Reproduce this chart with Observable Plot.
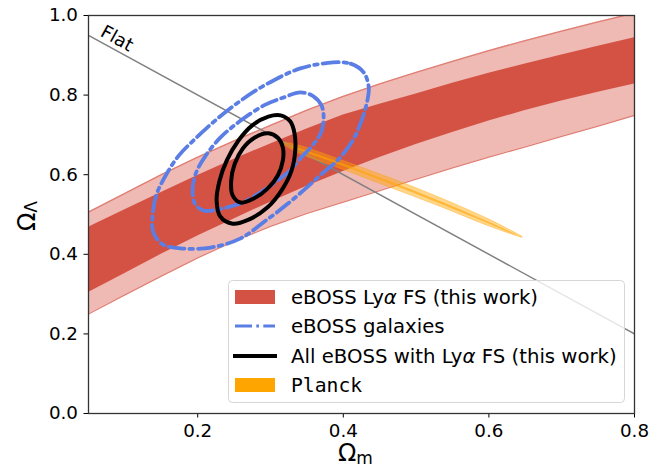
<!DOCTYPE html>
<html><head><meta charset="utf-8">
<script src="https://cdn.jsdelivr.net/npm/d3@7"></script>
<script src="https://cdn.jsdelivr.net/npm/@observablehq/plot@0.6"></script>
<style>body{margin:0;background:#fff} svg{font-family:"DejaVu Sans"}</style>
</head><body><div id="chart"></div>
<script>
// Omega_m grid for the Lya FS bands
const omGrid = [0.05,0.10,0.15,0.20,0.25,0.30,0.35,0.40,0.45,0.50,0.55,0.60,0.65,0.70,0.75,0.80];
const lya2sUpper = [0.506,0.553,0.600,0.644,0.685,0.724,0.762,0.797,0.828,0.857,0.885,0.912,0.937,0.961,0.984,1.006];
const lya1sUpper = [0.468,0.512,0.555,0.598,0.639,0.677,0.715,0.750,0.777,0.803,0.830,0.855,0.878,0.901,0.923,0.944];
const lya1sLower = [0.304,0.352,0.400,0.446,0.489,0.531,0.571,0.608,0.643,0.676,0.706,0.735,0.761,0.785,0.807,0.828];
const lya2sLower = [0.250,0.298,0.345,0.391,0.433,0.470,0.503,0.531,0.560,0.589,0.617,0.644,0.670,0.696,0.722,0.749];

// eBOSS galaxies contours [Omega_m, Omega_Lambda]
const galaxies2s = [[0.386,0.882],[0.410,0.879],[0.428,0.857],[0.435,0.819],[0.433,0.786],[0.426,0.741],[0.413,0.686],[0.392,0.636],[0.371,0.603],[0.348,0.565],[0.321,0.523],[0.290,0.480],[0.259,0.440],[0.218,0.417],[0.176,0.415],[0.152,0.425],[0.139,0.455],[0.138,0.497],[0.143,0.548],[0.156,0.598],[0.174,0.648],[0.197,0.691],[0.224,0.736],[0.259,0.786],[0.296,0.829],[0.341,0.867]];
const galaxies1s = [[0.341,0.807],[0.359,0.797],[0.370,0.774],[0.373,0.744],[0.369,0.704],[0.355,0.668],[0.341,0.641],[0.327,0.611],[0.304,0.578],[0.284,0.553],[0.259,0.528],[0.234,0.515],[0.208,0.510],[0.196,0.528],[0.193,0.565],[0.198,0.606],[0.211,0.648],[0.231,0.693],[0.259,0.736],[0.293,0.776],[0.318,0.794]];

// All eBOSS with Lya FS contours
const combined2s = [[0.314,0.749],[0.327,0.734],[0.333,0.704],[0.334,0.661],[0.329,0.611],[0.315,0.560],[0.296,0.518],[0.270,0.487],[0.248,0.477],[0.231,0.495],[0.226,0.535],[0.230,0.585],[0.240,0.636],[0.256,0.686],[0.275,0.724],[0.297,0.746]];
const combined1s = [[0.297,0.704],[0.310,0.693],[0.317,0.668],[0.317,0.636],[0.310,0.598],[0.296,0.565],[0.277,0.540],[0.259,0.530],[0.248,0.548],[0.246,0.585],[0.251,0.628],[0.262,0.666],[0.278,0.693]];

// Planck degeneracy band
const planck2sOm = [0.318,0.341,0.396,0.465,0.534,0.602,0.646];
const planck2sUpper = [0.681,0.672,0.637,0.591,0.541,0.486,0.444];
const planck2sLower = [0.675,0.652,0.615,0.567,0.519,0.469,0.441];
const planck1sOm = [0.330,0.396,0.465,0.534,0.602,0.637];
const planck1sUpper = [0.672,0.630,0.582,0.532,0.479,0.449];
const planck1sLower = [0.667,0.624,0.576,0.526,0.475,0.447];

// Flat universe line
const flatOm = [0.05,0.80];
const flatOL = [0.95,0.20];

const xTicks = [0.2,0.4,0.6,0.8];
const yTicks = [0.0,0.2,0.4,0.6,0.8,1.0];

const legendLabels = ["eBOSS Ly|α| FS (this work)","eBOSS galaxies","All eBOSS with Ly|α| FS (this work)","Planck"];

const bandRows = omGrid.map((om,i)=>({om, ou:lya2sUpper[i], iu:lya1sUpper[i], il:lya1sLower[i], ol:lya2sLower[i]}));
const planck2Rows = planck2sOm.map((om,i)=>({om, u:planck2sUpper[i], l:planck2sLower[i]}));
const planck1Rows = planck1sOm.map((om,i)=>({om, u:planck1sUpper[i], l:planck1sLower[i]}));
const flatRows = flatOm.map((om,i)=>({om, ol:flatOL[i]}));

const blue = "#5b7ee5";
const dash = "16,5,3.5,5";

const svg = Plot.plot({
  width: 671, height: 470,
  marginLeft: 88, marginRight: 37, marginTop: 15, marginBottom: 57,
  style: {fontFamily: "DejaVu Sans", fontSize: "18px", color: "#000", background: "#fff"},
  x: {domain: [0.05, 0.8], ticks: xTicks, tickFormat: ".1f", tickSize: 4.5, tickPadding: 6, label: null},
  y: {domain: [0, 1], ticks: yTicks, tickFormat: ".1f", tickSize: 4.5, tickPadding: 6, label: null},
  marks: [
    Plot.areaY(bandRows, {x:"om", y1:"ol", y2:"ou", fill:"#efb9b4", clip:true}),
    Plot.areaY(bandRows, {x:"om", y1:"il", y2:"iu", fill:"#d45244", clip:true}),
    Plot.line(bandRows, {x:"om", y:"ou", stroke:"#e07f74", strokeWidth:1.3, clip:true}),
    Plot.line(bandRows, {x:"om", y:"ol", stroke:"#e07f74", strokeWidth:1.3, clip:true}),
    Plot.line(flatRows, {x:"om", y:"ol", stroke:"#808080", strokeWidth:1.5, clip:true}),
    Plot.areaY(planck2Rows, {x:"om", y1:"l", y2:"u", fill:"#ffa500", fillOpacity:0.45, stroke:"#ffa500", strokeOpacity:0.5, strokeWidth:0.8, curve:"catmull-rom"}),
    Plot.areaY(planck1Rows, {x:"om", y1:"l", y2:"u", fill:"#ffa500", fillOpacity:0.6, curve:"catmull-rom"}),
    Plot.line(galaxies2s, {x:d=>d[0], y:d=>d[1], curve:"catmull-rom-closed", stroke:blue, strokeWidth:3.8, strokeDasharray:dash}),
    Plot.line(galaxies1s, {x:d=>d[0], y:d=>d[1], curve:"catmull-rom-closed", stroke:blue, strokeWidth:3.8, strokeDasharray:dash}),
    Plot.line(combined2s, {x:d=>d[0], y:d=>d[1], curve:"catmull-rom-closed", stroke:"#000", strokeWidth:4}),
    Plot.line(combined1s, {x:d=>d[0], y:d=>d[1], curve:"catmull-rom-closed", stroke:"#000", strokeWidth:4}),
    Plot.text(["Flat"], {x:0.089, y:0.942, text:d=>d, rotate:28.7, fontSize:18, fill:"#000"}),
    Plot.frame({stroke:"#333", strokeWidth:1.3})
  ]
});

const s = d3.select(svg);
s.selectAll("text").attr("font-size", 18.3);
// axis labels
const xl = s.append("text").attr("x",338).attr("y",461).attr("font-size",24).attr("fill","#000").attr("text-anchor","start");
xl.append("tspan").text("Ω");
xl.append("tspan").attr("font-size",17).attr("dy",3).text("m");
const yl = s.append("text").attr("transform","translate(35,231) rotate(-90)").attr("font-size",24).attr("fill","#000").attr("text-anchor","start");
yl.append("tspan").text("Ω");
yl.append("tspan").attr("font-size",17).attr("dy",2).text("Λ");

// legend
const lg = s.append("g").attr("text-anchor","start");
lg.append("rect").attr("x",228.5).attr("y",280.5).attr("width",396).attr("height",122).attr("rx",4)
  .attr("fill","#fff").attr("fill-opacity",0.8).attr("stroke","#d6d6d6").attr("stroke-width",1);
const rowsY = [297,326,356,385];
lg.append("rect").attr("x",235).attr("y",rowsY[0]-7).attr("width",40).attr("height",14).attr("fill","#d45244");
lg.append("line").attr("x1",235).attr("x2",275).attr("y1",rowsY[1]).attr("y2",rowsY[1]).attr("stroke",blue).attr("stroke-width",3).attr("stroke-dasharray","17,4.3,2.7,4.3");
lg.append("line").attr("x1",233).attr("x2",277).attr("y1",rowsY[2]).attr("y2",rowsY[2]).attr("stroke","#000").attr("stroke-width",4);
lg.append("rect").attr("x",235).attr("y",rowsY[3]-7).attr("width",40).attr("height",14).attr("fill","#ffa500");
legendLabels.forEach((lab,i)=>{
  const t = lg.append("text").attr("x",291).attr("y",rowsY[i]).attr("dy","0.36em").attr("font-size",19.7).attr("fill","#000").attr("text-anchor","start");
  if (i===3) t.attr("font-family","DejaVu Sans Mono");
  lab.split("|").forEach((part,j)=>{
    const ts = t.append("tspan").text(part);
    if (j===1) ts.attr("font-style","italic");
  });
});

document.getElementById("chart").appendChild(svg);
</script>
</body></html>
